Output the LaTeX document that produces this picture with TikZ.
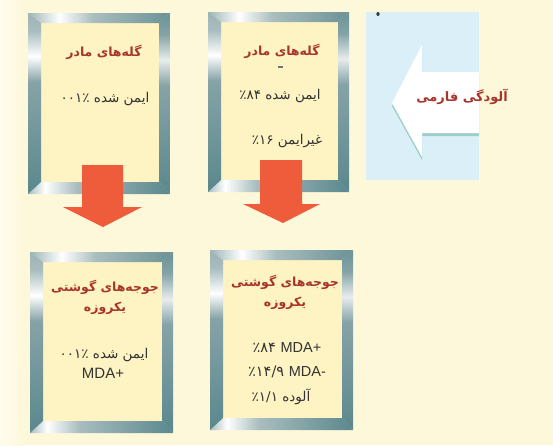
\documentclass[tikz,border=0pt]{standalone}
\usepackage{fontspec}
\TeXXeTstate=1
\newfontfamily\fa[Script=Arabic]{DejaVu Sans}
\newfontfamily\lat{Liberation Sans}
\definecolor{bg}{HTML}{FEF8DA}
\definecolor{bgl}{HTML}{FFFCEE}
\definecolor{innerY}{HTML}{FEF3C2}
\definecolor{titlered}{HTML}{A8352C}
\definecolor{bodygray}{HTML}{333333}
\definecolor{redarrow}{HTML}{EF5C3C}
\definecolor{bluebox}{HTML}{DAEFF8}
\definecolor{shadowc}{HTML}{9CCFC8}
\definecolor{fA}{HTML}{9DB3B6}
\definecolor{fB}{HTML}{A9BDBF}
\definecolor{fC}{HTML}{6A9296}
\definecolor{fD}{HTML}{5A888D}
\definecolor{fE}{HTML}{86A3A7}
\pgfdeclarehorizontalshading{topbar}{100bp}{color(0bp)=(fA); color(25bp)=(fA); color(36bp)=(white); color(48bp)=(fB); color(75bp)=(fC); color(100bp)=(fC)}
\pgfdeclarehorizontalshading{botbar}{100bp}{color(0bp)=(fB); color(25bp)=(fB); color(31bp)=(white); color(42bp)=(fB); color(75bp)=(fD); color(100bp)=(fD)}
\pgfdeclareverticalshading{leftbar}{100bp}{color(0bp)=(fD); color(25bp)=(fD); color(56bp)=(fE); color(63bp)=(white); color(70bp)=(fB); color(75bp)=(fA); color(100bp)=(fA)}
\pgfdeclareverticalshading{rightbar}{100bp}{color(0bp)=(fD); color(25bp)=(fD); color(55bp)=(fE); color(62bp)=(white!80!fE); color(69bp)=(fE); color(75bp)=(fC); color(100bp)=(fC)}
\newcommand\bevelframe[4]{%
  \fill[innerY] (#1,#2) rectangle (#3,#4);
  \shade[shading=topbar] (#1,#2) -- (#3,#2) -- ({#3-11},{#2+10}) -- ({#1+13},{#2+10}) -- cycle;
  \shade[shading=botbar] (#1,#4) -- (#3,#4) -- ({#3-11},{#4-12}) -- ({#1+13},{#4-12}) -- cycle;
  \shade[shading=leftbar] (#1,#2) -- ({#1+13},{#2+10}) -- ({#1+13},{#4-12}) -- (#1,#4) -- cycle;
  \shade[shading=rightbar] (#3,#2) -- ({#3-11},{#2+10}) -- ({#3-11},{#4-12}) -- (#3,#4) -- cycle;
}
\begin{document}
\begin{tikzpicture}[x=1pt,y=-1pt,
  title/.style={text=titlered,font=\fa\bfseries\fontsize{12.5}{20}\selectfont,align=center,inner sep=0pt},
  body/.style={text=bodygray,font=\fa\fontsize{13.5}{16}\selectfont,inner sep=0pt},
  latin/.style={text=bodygray,font=\lat\fontsize{15}{16}\selectfont,inner sep=0pt}]
\useasboundingbox (0,0) rectangle (553,445);
\fill[bg] (0,0) rectangle (553,445);
\shade[left color=bgl,right color=bg] (0,0) rectangle (24,445);
% frames
\bevelframe{28}{13}{170}{194}
\bevelframe{208}{12}{349}{192}
\bevelframe{30}{252}{173}{433}
\bevelframe{210}{250}{353}{430}
% blue panel with white arrow
\fill[bluebox] (366,12) rectangle (479,180);
\fill[shadowc] (392,106) -- (422,48) -- (422,75) -- (479,75) -- (479,136) -- (422,136) -- (422,160) -- cycle;
\fill[white] (392,103) -- (422,45) -- (422,72) -- (479,72) -- (479,133) -- (422,133) -- (422,157) -- cycle;
% small print marks
\fill[black!80] (378,14) ellipse (1.6 and 2);
\fill[black!55] (277.5,66) rectangle (282.5,68);
% red arrows
\fill[redarrow] (82,165) -- (123,165) -- (123,207) -- (142,207) -- (103,227) -- (63,207) -- (82,207) -- cycle;
\fill[redarrow] (260,160) -- (302,160) -- (302,204) -- (320,204) -- (283,223) -- (243,204) -- (260,204) -- cycle;
% texts
\node[title] (t1) at (104,52) {\beginR گله‌های مادر\endR};
\node[body] (b1) at (105,99) {\beginR ایمن شده \beginL۰۰۱٪\endL\endR};
\node[title] (t2) at (282,51) {\beginR گله‌های مادر\endR};
\node[body] (b2a) at (280,96) {\beginR ایمن شده \beginL٪۸۴\endL\endR};
\node[body] (b2b) at (287,141) {\beginR غیرایمن \beginL٪۱۶\endL\endR};
\node[title] (t3) at (105,297) {\beginR جوجه‌های گوشتی\endR\\\beginR یکروزه\endR};
\node[body] (b3a) at (104,355) {\beginR ایمن شده \beginL۰۰۱٪\endL\endR};
\node[latin] (b3b) at (103,373) {MDA+};
\node[title] (t4) at (285,292) {\beginR جوجه‌های گوشتی\endR\\\beginR یکروزه\endR};
\node[body,font=\fa\fontsize{14.5}{16}\selectfont] (b4a) at (287,348) {٪۸۴ {\lat\fontsize{14.5}{16}\selectfont MDA+}};
\node[body,font=\fa\fontsize{14.5}{16}\selectfont] (b4b) at (287,372) {٪۱۴/۹ {\lat\fontsize{14.5}{16}\selectfont MDA-}};
\node[body] (b4c) at (281,397) {\beginR آلوده \beginL٪۱/۱\endL\endR};
\node[title,font=\fa\bfseries\fontsize{13}{16}\selectfont] (al) at (462,97) {\beginR آلودگی فارمی\endR};
\end{tikzpicture}
\end{document}
